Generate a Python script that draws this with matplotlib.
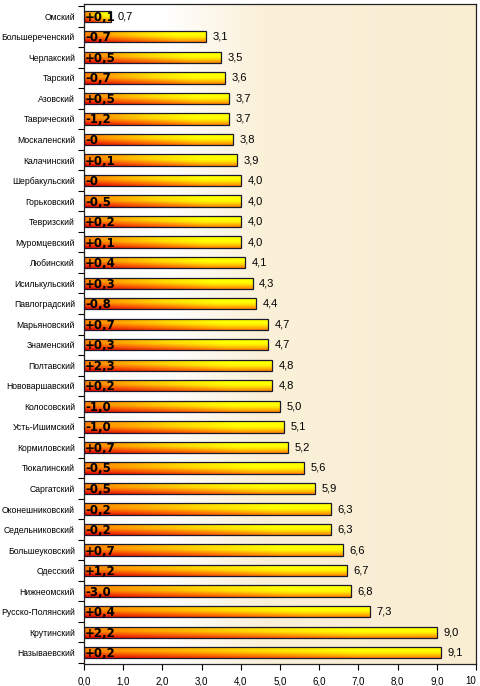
import numpy as np
import matplotlib
matplotlib.use("Agg")
import matplotlib.pyplot as plt
from matplotlib.colors import LinearSegmentedColormap
from matplotlib.patches import Rectangle

districts = ["Омский", "Большереченский", "Черлакский", "Тарский", "Азовский",
             "Таврический", "Москаленский", "Калачинский", "Шербакульский",
             "Горьковский", "Тевризский", "Муромцевский", "Любинский",
             "Исилькульский", "Павлоградский", "Марьяновский", "Знаменский",
             "Полтавский", "Нововаршавский", "Колосовский", "Усть-Ишимский",
             "Кормиловский", "Тюкалинский", "Саргатский", "Оконешниковский",
             "Седельниковский", "Большеуковский", "Одесский", "Нижнеомский",
             "Русско-Полянский", "Крутинский", "Называевский"]
values = [0.7, 3.1, 3.5, 3.6, 3.7, 3.7, 3.8, 3.9, 4.0, 4.0, 4.0, 4.0, 4.1,
          4.3, 4.4, 4.7, 4.7, 4.8, 4.8, 5.0, 5.1, 5.2, 5.6, 5.9, 6.3, 6.3,
          6.6, 6.7, 6.8, 7.3, 9.0, 9.1]
changes = ["+0,1", "-0,7", "+0,5", "-0,7", "+0,5", "-1,2", "-0", "+0,1", "-0",
           "-0,5", "+0,2", "+0,1", "+0,4", "+0,3", "-0,8", "+0,7", "+0,3",
           "+2,3", "+0,2", "-1,0", "-1,0", "+0,7", "-0,5", "-0,5", "-0,2",
           "-0,2", "+0,7", "+1,2", "-3,0", "+0,4", "+2,2", "+0,2"]
xticks = [0, 1, 2, 3, 4, 5, 6, 7, 8, 9, 10]
xticklabels = ["0,0", "1,0", "2,0", "3,0", "4,0", "5,0", "6,0", "7,0", "8,0", "9,0", "10"]

fig = plt.figure(figsize=(4.8, 6.86), dpi=100)
ax = fig.add_axes([84/480, 22/686, (476-84)/480, (664-4)/686])

n = len(districts)
ax.set_xlim(0, 10)
ax.set_ylim(n - 0.45, -0.6)

# background: white on the left fading to parchment beige
bg_cmap = LinearSegmentedColormap.from_list("bg", [(0, "#ffffff"), (0.2, "#ffffff"),
                                                    (0.45, "#fbf1d9"), (1, "#f9edd2")])
gx = np.linspace(0, 1, 300)[None, :]
ax.imshow(gx, extent=(0, 10, n - 0.45, -0.6), aspect="auto", cmap=bg_cmap,
          zorder=0, interpolation="bilinear")

bar_cmap = LinearSegmentedColormap.from_list("bar", [(0, "#e00000"), (0.5, "#ff8000"),
                                                      (0.8, "#ffd800"), (1, "#ffff00")])
h = 0.55
U, V = np.meshgrid(np.linspace(0, 1, 160), np.linspace(1, 0, 40))  # V: 1 top row
S = 0.5 * np.clip(1.3 * U, 0, 1) + 0.5 * np.clip(V * 1.8, 0, 1)

for i, (v, c) in enumerate(zip(values, changes)):
    top = i - h / 2
    bot = i + h / 2
    im = ax.imshow(S, extent=(0, v, bot, top), aspect="auto", cmap=bar_cmap,
                   vmin=0, vmax=1, zorder=2, interpolation="bilinear")
    rect = Rectangle((0, top), v, h, facecolor="none", edgecolor="#1a1a2e",
                     linewidth=0.9, zorder=3)
    ax.add_patch(rect)
    im.set_clip_path(rect)
    ax.text(0.03, i + 0.05, c, ha="left", va="center", fontsize=8.5,
            fontweight="bold", color="black", zorder=4,
            family="DejaVu Sans")
    ax.text(v + 0.17, i, f"{v:.1f}".replace(".", ","), ha="left", va="center",
            fontsize=8, color="black", zorder=4, family="Liberation Sans")

ax.set_yticks(range(n))
ax.set_yticklabels(districts, fontsize=6.2, family="Liberation Sans")
ax.tick_params(axis="y", which="major", length=0, pad=6.5)
ax.set_yticks(np.arange(-0.5, n, 1), minor=True)
ax.tick_params(axis="y", which="minor", length=4, width=0.8, direction="out")
ax.set_xticks(xticks)
ax.set_xticklabels(xticklabels, fontsize=7, family="Liberation Sans")
ax.tick_params(axis="x", length=4, width=0.8, direction="out", pad=5)
ax.get_xticklabels()[-1].set_horizontalalignment("right")

for sp in ax.spines.values():
    sp.set_linewidth(0.9)
    sp.set_color("#222222")

fig.savefig("out.png", dpi=100)
